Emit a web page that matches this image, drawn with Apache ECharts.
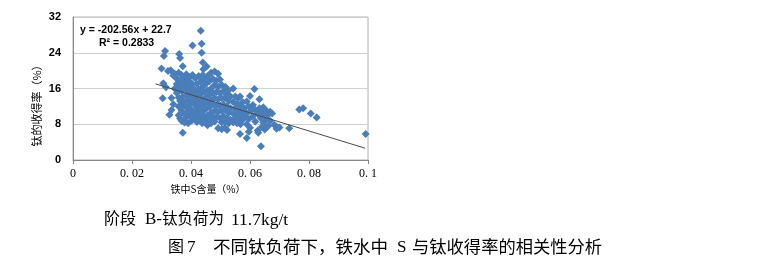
<!DOCTYPE html>
<html>
<head>
<meta charset="utf-8">
<script src="https://cdn.jsdelivr.net/npm/echarts@6/dist/echarts.min.js"></script>
<style>
html,body{margin:0;padding:0;background:#fff;}
#chart{width:778px;height:260px;}
</style>
</head>
<body>
<div id="chart"></div>
<script>
// ---- data (S content in hot metal %, titanium yield %) ----
const observations = [
  [0.0300,20.5],[0.0304,13.8],[0.0306,17.2],[0.0308,23.3],[0.0312,24.4],[0.0315,16.3],
  [0.0322,19.9],[0.0327,10.1],[0.0331,20.1],[0.0334,13.9],[0.0334,11.2],[0.0340,18.9],
  [0.0340,12.5],[0.0345,16.0],[0.0345,19.3],[0.0352,18.2],[0.0352,15.0],[0.0352,17.0],
  [0.0358,19.5],[0.0358,16.2],[0.0358,14.0],[0.0358,12.0],[0.0358,10.0],[0.0360,23.7],
  [0.0363,22.8],[0.0363,17.8],[0.0363,13.2],[0.0363,9.3],[0.0368,19.0],[0.0368,15.5],
  [0.0368,11.0],[0.0368,8.8],[0.0372,21.0],[0.0372,6.1],[0.0372,16.8],[0.0372,14.2],
  [0.0372,12.2],[0.0378,18.3],[0.0378,17.0],[0.0378,13.0],[0.0378,10.2],[0.0378,8.4],
  [0.0384,19.2],[0.0384,15.8],[0.0384,14.5],[0.0384,11.8],[0.0384,9.5],[0.0390,17.5],
  [0.0390,16.3],[0.0390,13.4],[0.0390,10.8],[0.0390,8.2],[0.0396,18.6],[0.0396,15.2],
  [0.0396,12.4],[0.0396,9.9],[0.0402,17.2],[0.0402,14.3],[0.0402,11.3],[0.0402,8.8],
  [0.0405,25.6],[0.0405,19.0],[0.0408,16.0],[0.0408,13.2],[0.0408,10.4],[0.0414,18.3],
  [0.0414,15.0],[0.0414,12.3],[0.0414,9.4],[0.0420,17.0],[0.0420,14.0],[0.0420,11.2],
  [0.0420,8.5],[0.0426,18.8],[0.0426,15.8],[0.0426,13.0],[0.0426,10.2],[0.0433,28.9],
  [0.0436,26.0],[0.0436,24.0],[0.0432,17.5],[0.0432,14.7],[0.0432,12.0],[0.0432,9.2],
  [0.0438,16.3],[0.0438,13.5],[0.0438,10.8],[0.0438,8.2],[0.0440,21.8],[0.0440,19.0],
  [0.0442,20.3],[0.0444,18.2],[0.0444,15.2],[0.0444,12.6],[0.0444,9.8],[0.0450,17.0],
  [0.0450,14.0],[0.0450,11.4],[0.0450,8.8],[0.0453,20.9],[0.0456,18.8],[0.0456,15.6],
  [0.0456,12.8],[0.0456,10.0],[0.0456,7.8],[0.0462,17.6],[0.0462,14.6],[0.0462,11.8],
  [0.0462,9.0],[0.0468,19.5],[0.0468,16.0],[0.0468,13.4],[0.0468,10.6],[0.0468,8.2],
  [0.0474,18.2],[0.0474,15.0],[0.0474,12.4],[0.0474,9.6],[0.0480,19.8],[0.0480,16.8],
  [0.0480,13.8],[0.0480,11.0],[0.0480,8.6],[0.0486,17.8],[0.0486,15.2],[0.0486,12.2],
  [0.0486,9.6],[0.0492,19.3],[0.0492,16.4],[0.0492,13.6],[0.0492,10.8],[0.0492,7.1],
  [0.0498,18.0],[0.0498,15.0],[0.0498,12.2],[0.0498,9.4],[0.0504,16.8],[0.0504,13.8],
  [0.0504,11.0],[0.0504,8.4],[0.0504,6.9],[0.0510,15.4],[0.0510,12.4],[0.0510,9.8],
  [0.0515,13.9],[0.0515,7.2],[0.0516,16.4],[0.0516,11.2],[0.0516,8.6],[0.0522,14.6],
  [0.0522,12.0],[0.0522,9.4],[0.0522,6.7],[0.0528,15.6],[0.0528,13.2],[0.0528,10.6],
  [0.0528,8.2],[0.0534,14.2],[0.0534,11.6],[0.0534,9.0],[0.0543,16.0],[0.0543,13.0],
  [0.0543,10.4],[0.0543,8.4],[0.0550,14.2],[0.0550,11.6],[0.0550,9.4],[0.0556,12.6],
  [0.0556,10.2],[0.0556,8.2],[0.0560,13.9],[0.0562,11.2],[0.0562,9.0],[0.0566,5.8],
  [0.0566,14.2],[0.0568,12.2],[0.0568,10.0],[0.0568,8.0],[0.0575,13.0],[0.0575,10.8],
  [0.0575,9.0],[0.0582,11.6],[0.0582,9.6],[0.0589,4.9],[0.0589,13.1],[0.0589,10.4],
  [0.0589,8.0],[0.0596,12.0],[0.0596,9.2],[0.0596,6.3],[0.0600,14.3],[0.0600,7.2],
  [0.0604,11.0],[0.0610,12.3],[0.0610,9.8],[0.0615,15.9],[0.0618,11.2],[0.0618,8.6],
  [0.0626,10.4],[0.0626,6.6],[0.0628,6.1],[0.0632,13.6],[0.0632,11.6],[0.0637,3.1],
  [0.0636,9.4],[0.0640,10.8],[0.0640,7.4],[0.0645,8.4],[0.0645,11.8],[0.0650,10.0],
  [0.0650,6.8],[0.0650,7.6],[0.0656,11.0],[0.0656,9.0],[0.0662,10.2],[0.0662,7.6],
  [0.0668,10.8],[0.0668,8.8],[0.0675,10.4],[0.0682,7.9],[0.0690,7.5],[0.0690,7.0],
  [0.0700,7.3],[0.0733,7.1],[0.0767,11.3],[0.0780,11.6],[0.0806,10.4],[0.0826,9.5],
  [0.0992,5.8]
];
// linear trend (Excel trendline): y = slope * x + intercept
const trendSlope = -202.56;
const trendIntercept = 22.7;
const trendXRange = [0.028, 0.099];
const equationText = 'y = -202.56x + 22.7';
const r2Text = 'R\u00b2 = 0.2833';
const xTickValues = [0, 0.02, 0.04, 0.06, 0.08, 0.1];
const xTickLabels = ['0', '0. 02', '0. 04', '0. 06', '0. 08', '0. 1'];
const yTickLabels = ['0', '8', '16', '24', '32'];
const xAxisTitle = '铁中S含量（%）';
const yAxisTitle = '钛的收得率（%）';
const subCaption = ['阶段', 'B-', '钛负荷为', '11.7kg/t'];
const figCaption = ['图', '7', '不同钛负荷下，铁水中', 'S', '与钛收得率的相关性分析'];

const trendData = trendXRange.map(x => [x, trendSlope * x + trendIntercept]);

const chart = echarts.init(document.getElementById('chart'), null, {renderer: 'canvas'});
const CJK = "'Liberation Serif','Noto Sans CJK SC',serif";
chart.setOption({
  animation: false,
  backgroundColor: '#fff',
  grid: {left: 73, right: 410, top: 17, bottom: 100, show: true, borderColor: '#b0b0b0', borderWidth: 1},
  xAxis: {
    type: 'value', min: 0, max: 0.1, interval: 0.02,
    axisLine: {show: true, onZero: false, lineStyle: {color: '#868686', width: 1}},
    axisTick: {show: true, length: 4, lineStyle: {color: '#868686'}},
    splitLine: {show: false},
    axisLabel: {
      color: '#000', fontFamily: 'Liberation Serif', fontSize: 12, margin: 8,
      formatter: v => {
        const i = xTickValues.findIndex(t => Math.abs(t - v) < 1e-9);
        return i >= 0 ? xTickLabels[i] : '';
      }
    }
  },
  yAxis: {
    type: 'value', min: 0, max: 32, interval: 8,
    axisLine: {show: true, lineStyle: {color: '#868686', width: 1}},
    axisTick: {show: false},
    splitLine: {show: true, lineStyle: {color: '#d0d0d0', width: 1}},
    axisLabel: {
      color: '#000', fontFamily: 'Liberation Sans', fontWeight: 'bold', fontSize: 11, margin: 12,
      formatter: v => yTickLabels[Math.round(v / 8)] ?? ''
    }
  },
  series: [
    {
      type: 'scatter', data: observations, symbol: 'diamond', symbolSize: 8,
      itemStyle: {color: '#4a7ebb', opacity: 1}, z: 2
    },
    {
      type: 'line', data: trendData, showSymbol: false, symbol: 'none',
      lineStyle: {color: '#4a4a4a', width: 1}, z: 3
    }
  ],
  graphic: [
    {type: 'text', left: 80, top: 25, z: 10,
      style: {text: equationText, font: "bold 10.5px 'Liberation Sans'", fill: '#000'}},
    {type: 'text', left: 99, top: 38, z: 10,
      style: {text: r2Text, font: "bold 10.5px 'Liberation Sans'", fill: '#000'}},
    {type: 'text', x: 37, y: 103, rotation: Math.PI / 2, z: 10,
      style: {text: yAxisTitle, font: "11px 'Noto Sans CJK SC'", fill: '#000', align: 'center', verticalAlign: 'middle'}},
    {type: 'text', x: 208, y: 189, z: 10,
      style: {text: xAxisTitle, font: "10px 'Noto Sans CJK SC'", fill: '#000', align: 'center', verticalAlign: 'middle'}},
    {type: 'text', x: 104, y: 220, style: {text: subCaption[0], font: "16px " + CJK, fill: '#000', verticalAlign: 'middle'}},
    {type: 'text', x: 145, y: 220, style: {text: subCaption[1], font: "17px " + CJK, fill: '#000', verticalAlign: 'middle'}},
    {type: 'text', x: 162, y: 220, style: {text: subCaption[2], font: "15.5px " + CJK, fill: '#000', verticalAlign: 'middle'}},
    {type: 'text', x: 231, y: 220, style: {text: subCaption[3], font: "17.5px " + CJK, fill: '#000', verticalAlign: 'middle'}},
    {type: 'text', x: 168, y: 248, style: {text: figCaption[0], font: "16px " + CJK, fill: '#000', verticalAlign: 'middle'}},
    {type: 'text', x: 187, y: 248, style: {text: figCaption[1], font: "17px " + CJK, fill: '#000', verticalAlign: 'middle'}},
    {type: 'text', x: 213, y: 248, style: {text: figCaption[2], font: "17.5px " + CJK, fill: '#000', verticalAlign: 'middle'}},
    {type: 'text', x: 397, y: 248, style: {text: figCaption[3], font: "17px " + CJK, fill: '#000', verticalAlign: 'middle'}},
    {type: 'text', x: 412, y: 248, style: {text: figCaption[4], font: "17.3px " + CJK, fill: '#000', verticalAlign: 'middle'}}
  ]
});
</script>
</body>
</html>
